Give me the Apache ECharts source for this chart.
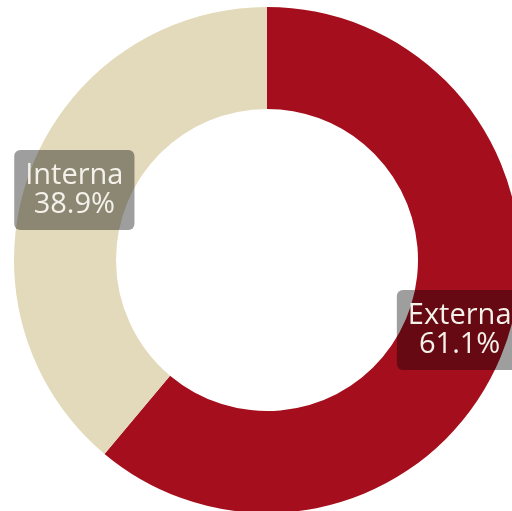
<!DOCTYPE html>
<html>
<head>
<meta charset="utf-8">
<script src="https://cdn.jsdelivr.net/npm/echarts@6/dist/echarts.min.js"></script>
<style>
html,body{margin:0;padding:0;background:#fff;}
#c{width:512px;height:511px;}
</style>
</head>
<body>
<div id="c"></div>
<script>
var categories = ['Externa', 'Interna'];
var values = [61.1, 38.9];
var colors = ['#A50F1D', '#E2DABA'];

var chart = echarts.init(document.getElementById('c'), null, {renderer: 'canvas'});
chart.setOption({
  animation: false,
  backgroundColor: '#ffffff',
  series: [{
    type: 'pie',
    center: [267, 260],
    radius: [151, 253],
    startAngle: 90,
    clockwise: true,
    percentPrecision: 1,
    avoidLabelOverlap: false,
    label: {
      show: true,
      position: 'inside',
      formatter: function (p) { return p.name + '\n' + p.value.toFixed(1) + '%'; },
      color: '#f4f1ea',
      fontFamily: 'Open Sans',
      fontSize: 29,
      lineHeight: 29,
      backgroundColor: 'rgba(0,0,0,0.38)',
      borderRadius: 6,
      padding: [11, 11, 11, 11]
    },
    labelLine: {show: false},
    emphasis: {disabled: true},
    itemStyle: {borderWidth: 0},
    data: categories.map(function (c, i) {
      return {name: c, value: values[i], itemStyle: {color: colors[i]}};
    })
  }]
});
</script>
</body>
</html>
